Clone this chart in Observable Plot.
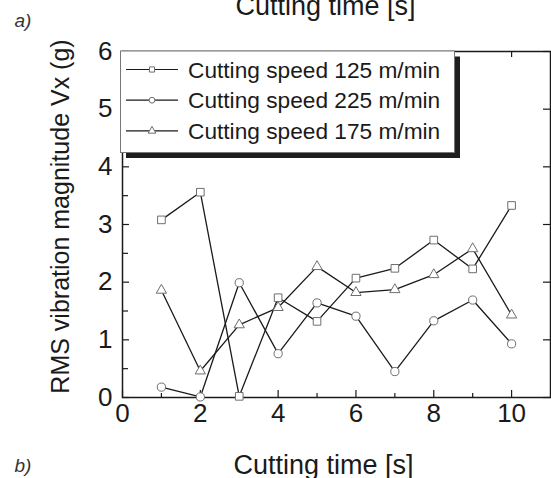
<!DOCTYPE html>
<html>
<head>
<meta charset="utf-8">
<script src="https://cdn.jsdelivr.net/npm/d3@7"></script>
<script src="https://cdn.jsdelivr.net/npm/@observablehq/plot@0.6"></script>
<style>
  html, body { margin: 0; padding: 0; background: #fff; }
  #chart svg { display: block; }
</style>
</head>
<body>
<div id="chart"></div>
<script>
// ---- data ----
const time = [1, 2, 3, 4, 5, 6, 7, 8, 9, 10];
const speed125 = [3.08, 3.56, 0.02, 1.73, 1.32, 2.07, 2.24, 2.73, 2.23, 3.33];
const speed225 = [0.18, 0.01, 1.99, 0.76, 1.64, 1.41, 0.45, 1.33, 1.69, 0.93];
const speed175 = [1.86, 0.46, 1.26, 1.56, 2.27, 1.82, 1.87, 2.13, 2.58, 1.43];
const seriesNames = ["Cutting speed 125 m/min", "Cutting speed 225 m/min", "Cutting speed 175 m/min"];
const seriesValues = [speed125, speed225, speed175];
const seriesSymbols = ["square", "circle", "triangle"];
const xMajorTicks = [0, 2, 4, 6, 8, 10];
const xMinorTicks = [1, 3, 5, 7, 9];
const yMajorTicks = [0, 1, 2, 3, 4, 5, 6];
const yMinorTicks = [0.5, 1.5, 2.5, 3.5, 4.5, 5.5];
const xLabel = "Cutting time [s]";
const yLabel = "RMS vibration magnitude Vx (g)";
const panelLabels = ["a)", "b)"];

// ---- layout ----
const W = 551, H = 478;
const mL = 122, mR = 1, mT = 51, mB = 81;
const plotW = W - mL - mR, plotH = H - mT - mB;
const FONT = "'Liberation Sans', Arial, Helvetica, sans-serif";
const INK = "#1a1a1a";
const symbolR = {square: 4.3, circle: 4.1, triangle: 3.8};

const rows = seriesNames.map((name, s) => time.map((t, i) => ({series: name, t, v: seriesValues[s][i]})));

const marks = [
  // tick labels
  Plot.axisX({ticks: xMajorTicks, tickFormat: d => String(d), tickSize: 0, tickPadding: 6, fontSize: 26, label: null, fill: INK}),
  Plot.axisY({ticks: yMajorTicks, tickFormat: d => String(d), tickSize: 0, tickPadding: 10, fontSize: 26, label: null, fill: INK}),
  // inward ticks (bottom, top, left, right)
  Plot.ruleX(xMajorTicks, {insetTop: plotH - 7, stroke: INK, strokeWidth: 1.2}),
  Plot.ruleX(xMinorTicks, {insetTop: plotH - 4, stroke: INK, strokeWidth: 1.2}),
  Plot.ruleX(xMajorTicks, {insetBottom: plotH - 6, stroke: INK, strokeWidth: 1.2}),
  Plot.ruleY(yMajorTicks, {insetRight: plotW - 7, stroke: INK, strokeWidth: 1.2}),
  Plot.ruleY(yMinorTicks, {insetRight: plotW - 6, stroke: INK, strokeWidth: 1.2}),
  Plot.ruleY(yMajorTicks, {insetLeft: plotW - 7, stroke: INK, strokeWidth: 1.2}),
  Plot.frame({stroke: INK, strokeWidth: 1.5}),
];
rows.forEach(r => marks.push(Plot.line(r, {x: "t", y: "v", stroke: INK, strokeWidth: 1.3})));
rows.forEach((r, s) => marks.push(Plot.dot(r, {
  x: "t", y: "v", symbol: seriesSymbols[s], r: symbolR[seriesSymbols[s]],
  fill: "white", stroke: "#6e6e6e", strokeWidth: 1
})));
// axis titles & panel labels
marks.push(
  Plot.text([xLabel], {text: d => d, frameAnchor: "bottom", textAnchor: "middle", dx: -13, dy: 76, lineAnchor: "bottom", fontSize: 27, fill: INK}),
  Plot.text([xLabel], {text: d => d, frameAnchor: "top", textAnchor: "middle", dx: -11, dy: -37, lineAnchor: "bottom", fontSize: 27, fill: INK}),
  Plot.text([yLabel], {text: d => d, frameAnchor: "left", textAnchor: "middle", dx: -62, dy: -8, rotate: -90, lineAnchor: "middle", fontSize: 25, fill: INK}),
  Plot.text([panelLabels[0]], {text: d => d, frameAnchor: "top-left", dx: -108, dy: -25, textAnchor: "start", lineAnchor: "bottom", fontSize: 19, fontStyle: "italic", fill: "#333"}),
  Plot.text([panelLabels[1]], {text: d => d, frameAnchor: "bottom-left", dx: -108, dy: 74, textAnchor: "start", lineAnchor: "bottom", fontSize: 19, fontStyle: "italic", fill: "#333"})
);

const chart = Plot.plot({
  width: W, height: H,
  marginLeft: mL, marginRight: mR, marginTop: mT, marginBottom: mB,
  style: {fontFamily: FONT, background: "white", overflow: "visible"},
  x: {domain: [0, 11]},
  y: {domain: [0, 6]},
  marks
});

// ---- legend (box with drop shadow) ----
const svg = d3.select(chart);
const lg = svg.append("g").attr("font-family", FONT).attr("text-anchor", "start");
const lx = 120.5, ly = 51, lw = 334, lh = 101.5, sh = 5.5;
lg.append("rect").attr("x", lx + sh).attr("y", ly + sh).attr("width", lw).attr("height", lh).attr("fill", "#1e1e1e");
lg.append("rect").attr("x", lx).attr("y", ly).attr("width", lw).attr("height", lh)
  .attr("fill", "white").attr("stroke", "#777").attr("stroke-width", 1);
const symMap = {square: d3.symbolSquare, circle: d3.symbolCircle, triangle: d3.symbolTriangle};
seriesNames.forEach((name, i) => {
  const cy = 69.5 + i * 30.7;
  lg.append("line").attr("x1", 126).attr("x2", 178).attr("y1", cy).attr("y2", cy)
    .attr("stroke", INK).attr("stroke-width", 1.2);
  const rr = 2.9;
  lg.append("path").attr("transform", `translate(152,${cy})`)
    .attr("d", d3.symbol(symMap[seriesSymbols[i]], Math.PI * rr * rr)())
    .attr("fill", "white").attr("stroke", "#6e6e6e").attr("stroke-width", 1);
  lg.append("text").attr("x", 188).attr("y", cy).attr("dy", "0.36em")
    .attr("text-anchor", "start")
    .attr("font-size", 22.7).attr("fill", INK).text(name);
});

document.getElementById("chart").append(chart);
</script>
</body>
</html>
